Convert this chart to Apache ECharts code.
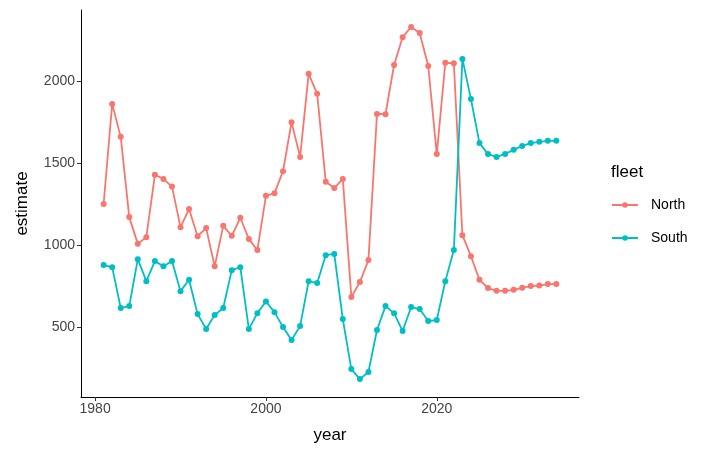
<!DOCTYPE html>
<html>
<head>
<meta charset="utf-8">
<script src="https://cdn.jsdelivr.net/npm/echarts@6/dist/echarts.min.js"></script>
<style>
html,body{margin:0;padding:0;background:#fff;}
#chart{width:712px;height:458px;}
</style>
</head>
<body>
<div id="chart"></div>
<script>
var years = [1981,1982,1983,1984,1985,1986,1987,1988,1989,1990,1991,1992,1993,1994,1995,1996,1997,1998,1999,2000,2001,2002,2003,2004,2005,2006,2007,2008,2009,2010,2011,2012,2013,2014,2015,2016,2017,2018,2019,2020,2021,2022,2023,2024,2025,2026,2027,2028,2029,2030,2031,2032,2033,2034];
var northValues = [1250,1860,1659,1170,1007,1048,1428,1403,1356,1109,1219,1054,1103,871,1117,1056,1166,1036,969,1300,1316,1450,1748,1537,2043,1921,1385,1347,1403,683,774,908,1799,1797,2097,2266,2329,2292,2091,1554,2110,2108,1060,932,788,738,721,721,727,739,750,753,762,762];
var southValues = [878,865,616,628,914,780,902,871,902,719,788,579,488,573,616,847,865,488,585,656,591,500,421,506,780,768,938,946,549,244,183,226,482,628,585,476,622,610,537,543,780,969,2134,1889,1621,1554,1537,1555,1580,1604,1621,1629,1635,1635];
var xTicks = [1980,2000,2020];
var yTicks = [500,1000,1500,2000];
var seriesNames = ['North','South'];
var colors = ['#F8766D','#00BFC4'];

function pairs(vals){ return years.map(function(y,i){ return [y, vals[i]]; }); }

var chart = echarts.init(document.getElementById('chart'), null, {renderer:'canvas'});
var font = 'Liberation Sans, Arial, sans-serif';
chart.setOption({
  animation:false,
  backgroundColor:'#ffffff',
  textStyle:{fontFamily:font},
  title:{text:'fleet', left:611, top:164, padding:0, textStyle:{fontSize:17, fontWeight:'normal', color:'#000', fontFamily:font}},
  legend:{
    orient:'vertical', left:611, top:198, padding:0, itemWidth:26, itemHeight:7, itemGap:19,
    textStyle:{fontSize:14, color:'#000', fontFamily:font, padding:[0,0,0,8]},
    data:seriesNames
  },
  grid:{left:81, top:10, right:133, bottom:61, containLabel:false},
  xAxis:{
    type:'value', min:1978.35, max:2036.65,
    name:'year', nameLocation:'middle', nameGap:30,
    nameTextStyle:{fontSize:17, color:'#000', fontFamily:font},
    axisLine:{show:true, lineStyle:{color:'#000', width:1}},
    axisTick:{show:true, length:4, lineStyle:{color:'#333'}, customValues:xTicks},
    axisLabel:{fontSize:14, color:'#444', margin:5, customValues:xTicks, fontFamily:font, formatter:function(v){return String(v);}},
    splitLine:{show:false}
  },
  yAxis:{
    type:'value', min:74, max:2432,
    name:'estimate', nameLocation:'middle', nameGap:50,
    nameTextStyle:{fontSize:17, color:'#000', fontFamily:font},
    axisLine:{show:true, lineStyle:{color:'#000', width:1}},
    axisTick:{show:true, length:4, lineStyle:{color:'#333'}, customValues:yTicks},
    axisLabel:{fontSize:14, color:'#444', margin:6, customValues:yTicks, fontFamily:font, formatter:function(v){return String(v);}},
    splitLine:{show:false}
  },
  series:[
    {name:seriesNames[0], type:'line', data:pairs(northValues), symbol:'circle', symbolSize:6,
     lineStyle:{color:colors[0], width:1.8}, itemStyle:{color:colors[0]}},
    {name:seriesNames[1], type:'line', data:pairs(southValues), symbol:'circle', symbolSize:6,
     lineStyle:{color:colors[1], width:1.8}, itemStyle:{color:colors[1]}}
  ]
});
</script>
</body>
</html>
